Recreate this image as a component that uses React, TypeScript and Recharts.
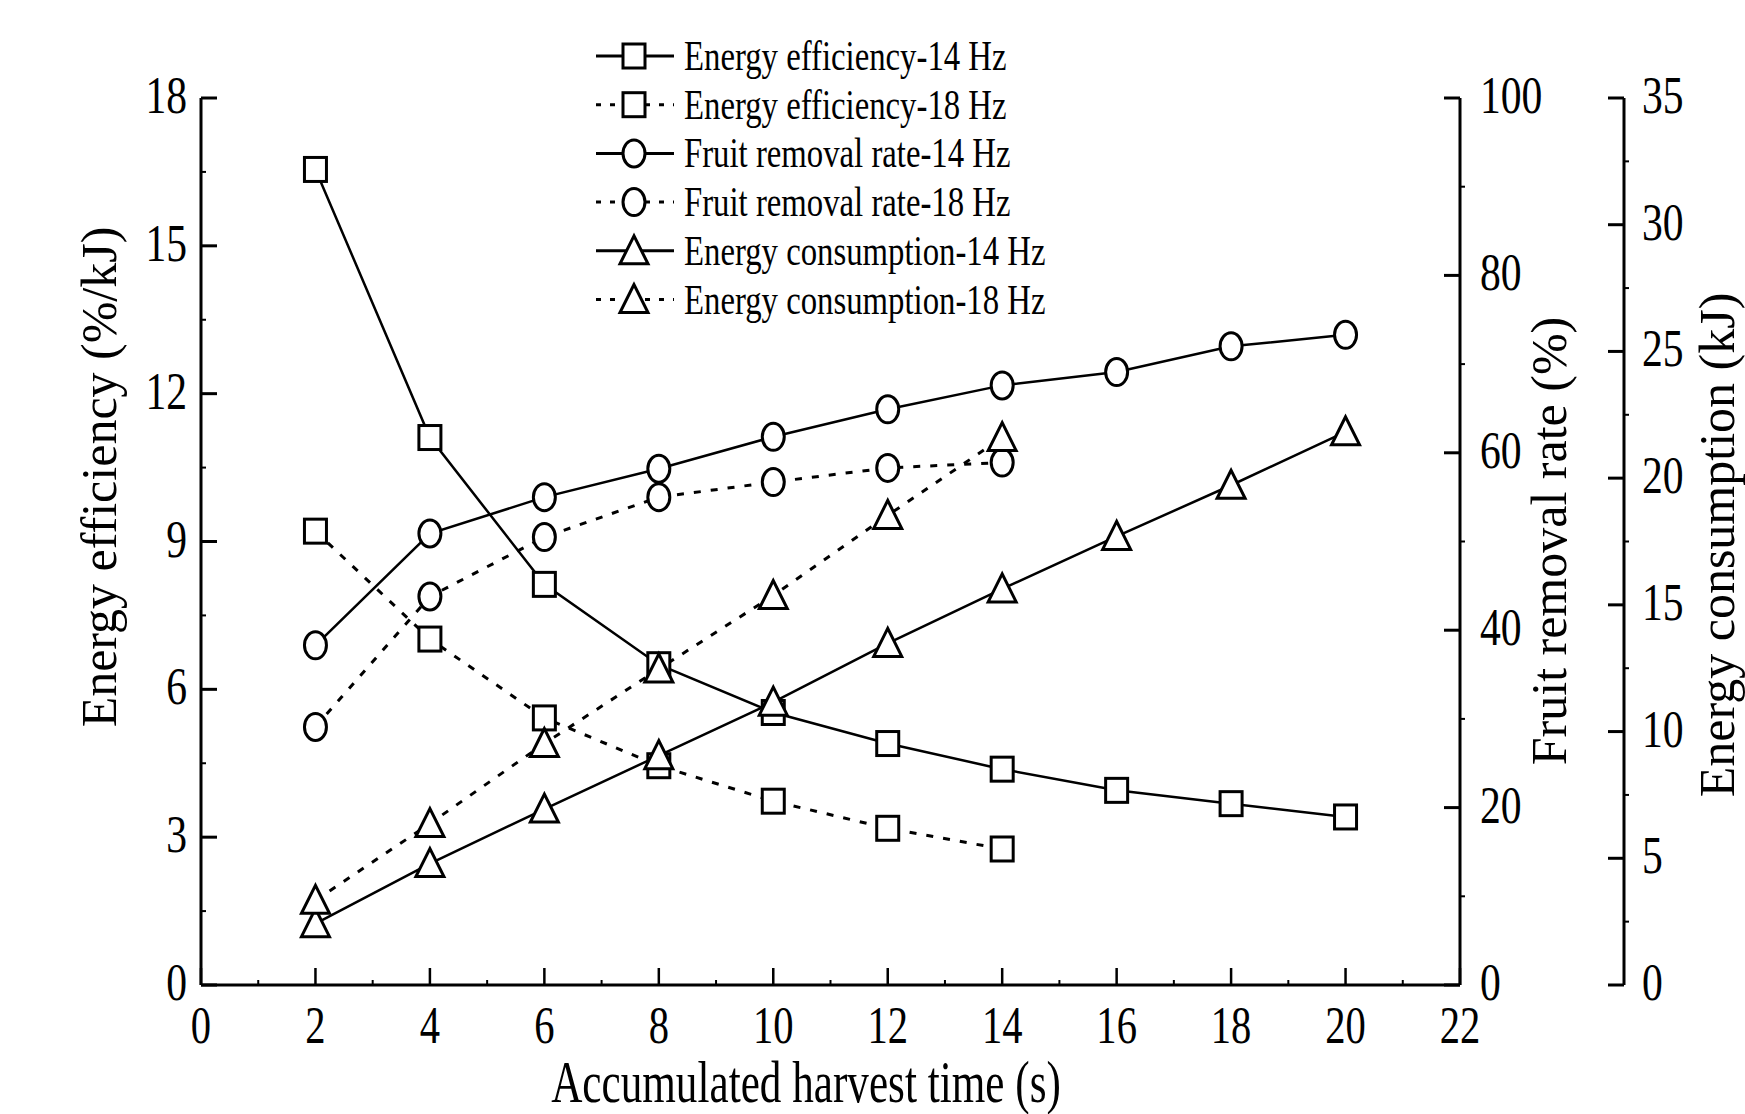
import React from "react";
import { ComposedChart, Line, XAxis, YAxis } from "recharts";

// values
const harvestTime = [2, 4, 6, 8, 10, 12, 14, 16, 18, 20];
const efficiency14 = [16.55, 11.11, 8.13, 6.5, 5.53, 4.9, 4.38, 3.95, 3.68, 3.41];
const efficiency18 = [9.21, 7.02, 5.42, 4.45, 3.73, 3.18, 2.76];
const removal14 = [38.3, 50.9, 55.0, 58.2, 61.8, 64.9, 67.6, 69.1, 72.0, 73.3];
const removal18 = [29.1, 43.8, 50.5, 55.0, 56.7, 58.3, 58.9];
const energy14 = [2.42, 4.79, 6.94, 9.05, 11.16, 13.48, 15.63, 17.7, 19.72, 21.83];
const energy18 = [3.34, 6.37, 9.53, 12.47, 15.37, 18.53, 21.6];

const timeTicks = [0, 1, 2, 3, 4, 5, 6, 7, 8, 9, 10, 11, 12, 13, 14, 15, 16, 17, 18, 19, 20, 21, 22];
const efficiencyTicks = [0, 1.5, 3, 4.5, 6, 7.5, 9, 10.5, 12, 13.5, 15, 16.5, 18];
const removalTicks = [0, 10, 20, 30, 40, 50, 60, 70, 80, 90, 100];
const energyTicks = [0, 2.5, 5, 7.5, 10, 12.5, 15, 17.5, 20, 22.5, 25, 27.5, 30, 32.5, 35];

const seriesKeys = ["ee14", "ee18", "fr14", "fr18", "ec14", "ec18"];
const seriesNames = [
  "Energy efficiency-14 Hz",
  "Energy efficiency-18 Hz",
  "Fruit removal rate-14 Hz",
  "Fruit removal rate-18 Hz",
  "Energy consumption-14 Hz",
  "Energy consumption-18 Hz",
];

const rows = harvestTime.map((t, i) => ({
  t,
  ee14: efficiency14[i],
  ee18: efficiency18[i],
  fr14: removal14[i],
  fr18: removal18[i],
  ec14: energy14[i],
  ec18: energy18[i],
}));

const FONT = "'Liberation Serif', 'Times New Roman', serif";
const W = 1745;
const H = 1114;

// r1 = fruit removal (next to the plot), r2 = energy consumption (outer)
type Shape = "square" | "circle" | "triangle";
const STYLE: Record<string, { shape: Shape; dashed: boolean; axis: string }> = {
  ee14: { shape: "square", dashed: false, axis: "l1" },
  ee18: { shape: "square", dashed: true, axis: "l1" },
  fr14: { shape: "circle", dashed: false, axis: "r1" },
  fr18: { shape: "circle", dashed: true, axis: "r1" },
  ec14: { shape: "triangle", dashed: false, axis: "r2" },
  ec18: { shape: "triangle", dashed: true, axis: "r2" },
};

function Marker({ shape, cx, cy }: { shape: Shape; cx: number; cy: number }) {
  const common = { fill: "#fff", stroke: "#000", strokeWidth: 3 };
  if (shape === "square") return <rect x={cx - 11} y={cy - 12} width={22} height={24} {...common} />;
  if (shape === "circle") return <ellipse cx={cx} cy={cy} rx={11} ry={13.5} {...common} />;
  return (
    <polygon
      points={`${cx},${cy - 15} ${cx - 14},${cy + 13} ${cx + 14},${cy + 13}`}
      {...common}
      strokeLinejoin="miter"
    />
  );
}

const makeDot = (shape: Shape) => (props: any) => {
  const { cx, cy, index } = props;
  if (cx == null || cy == null || Number.isNaN(cy)) return <g key={`d${index}`} />;
  return (
    <g key={`d${index}`}>
      <Marker shape={shape} cx={cx} cy={cy} />
    </g>
  );
};

const isMultiple = (v: number, step: number) => Math.abs(v / step - Math.round(v / step)) < 1e-6;

const makeYTick = (side: "left" | "right", major: number, gap: number) => (props: any) => {
  const { x, y, payload } = props;
  const v = payload.value as number;
  if (!isMultiple(v, major)) {
    return <line x1={x} y1={y} x2={x + 5} y2={y} stroke="#000" strokeWidth={2} />;
  }
  const dir = side === "left" ? 1 : -1;
  return (
    <g>
      <line x1={x} y1={y} x2={x + dir * 16} y2={y} stroke="#000" strokeWidth={3} />
      <text
        transform={`translate(${x - dir * gap},${y + 15}) scale(0.8,1)`}
        textAnchor={side === "left" ? "end" : "start"}
        fontFamily={FONT}
        fontSize={52}
        fill="#000"
      >
        {v}
      </text>
    </g>
  );
};

const renderTimeTick = (props: any) => {
  const { x, y, payload } = props;
  const v = payload.value as number;
  if (!isMultiple(v, 2)) {
    return <line x1={x} y1={y} x2={x} y2={y - 5} stroke="#000" strokeWidth={2} />;
  }
  return (
    <g>
      <line x1={x} y1={y} x2={x} y2={y - 17} stroke="#000" strokeWidth={2.5} />
      <text
        transform={`translate(${x},${y + 58}) scale(0.78,1)`}
        textAnchor="middle"
        fontFamily={FONT}
        fontSize={52}
        fill="#000"
      >
        {v}
      </text>
    </g>
  );
};

function VerticalTitle({ px, py, title }: any) {
  return (
    <text
      transform={`translate(${px},${py}) rotate(-90)`}
      textAnchor="middle"
      fontFamily={FONT}
      fontSize={50}
      fill="#000"
    >
      {title}
    </text>
  );
}

function HorizontalTitle({ px, py, title }: any) {
  return (
    <text
      transform={`translate(${px},${py}) scale(0.72,1)`}
      textAnchor="middle"
      fontFamily={FONT}
      fontSize={60}
      fill="#000"
    >
      {title}
    </text>
  );
}

function LegendOverlay() {
  return (
    <svg width={W} height={H} style={{ position: "absolute", left: 0, top: 0, pointerEvents: "none" }}>
      {seriesKeys.map((key, i) => {
        const s = STYLE[key];
        const cy = 56 + i * 48.7;
        return (
          <g key={key}>
            {s.dashed ? (
              <>
                <line x1={596} y1={cy} x2={623} y2={cy} stroke="#000" strokeWidth={3} strokeDasharray="5 9" />
                <line x1={645} y1={cy} x2={674} y2={cy} stroke="#000" strokeWidth={3} strokeDasharray="5 9" />
              </>
            ) : (
              <line x1={596} y1={cy} x2={674} y2={cy} stroke="#000" strokeWidth={3} />
            )}
            <Marker shape={s.shape} cx={634} cy={cy} />
            <text
              transform={`translate(684,${cy + 14}) scale(0.78,1)`}
              fontFamily={FONT}
              fontSize={42}
              fill="#000"
            >
              {seriesNames[i]}
            </text>
          </g>
        );
      })}
    </svg>
  );
}

const axisLine = { stroke: "#000", strokeWidth: 3 };

export default function App() {
  return (
    <div style={{ position: "absolute", left: 0, top: 0, width: W, height: H, background: "#fff" }}>
      <ComposedChart width={W} height={H} data={rows} margin={{ top: 98, right: 21, bottom: 29, left: 51 }}>
        <XAxis
          dataKey="t"
          type="number"
          domain={[0, 22]}
          ticks={timeTicks}
          interval={0}
          height={100}
          axisLine={axisLine}
          tickLine={false}
          tickSize={0}
          tickMargin={0}
          tick={renderTimeTick}
          label={<HorizontalTitle px={806} py={1102} title="Accumulated harvest time (s)" />}
        />
        <YAxis
          yAxisId="l1"
          orientation="left"
          type="number"
          domain={[0, 18]}
          ticks={efficiencyTicks}
          interval={0}
          width={150}
          axisLine={axisLine}
          tickLine={false}
          tickSize={0}
          tickMargin={0}
          tick={makeYTick("left", 3, 14)}
          label={<VerticalTitle px={116} py={477} title="Energy efficiency (%/kJ)" />}
        />
        <YAxis
          yAxisId="r2"
          orientation="right"
          type="number"
          domain={[0, 35]}
          ticks={energyTicks}
          interval={0}
          width={100}
          axisLine={axisLine}
          tickLine={false}
          tickSize={0}
          tickMargin={0}
          tick={makeYTick("right", 5, 18)}
          label={<VerticalTitle px={1734} py={545} title="Energy consumption (kJ)" />}
        />
        <YAxis
          yAxisId="r1"
          orientation="right"
          type="number"
          domain={[0, 100]}
          ticks={removalTicks}
          interval={0}
          width={164}
          axisLine={axisLine}
          tickLine={false}
          tickSize={0}
          tickMargin={0}
          tick={makeYTick("right", 20, 20)}
          label={<VerticalTitle px={1566} py={541} title="Fruit removal rate (%)" />}
        />
        {seriesKeys.map((key, i) => {
          const s = STYLE[key];
          return (
            <Line
              key={key}
              yAxisId={s.axis}
              dataKey={key}
              name={seriesNames[i]}
              type="linear"
              stroke="#000"
              strokeWidth={s.dashed ? 3 : 2.5}
              strokeDasharray={s.dashed ? "7 10" : undefined}
              dot={makeDot(s.shape)}
              activeDot={false}
              isAnimationActive={false}
            />
          );
        })}
      </ComposedChart>
      <LegendOverlay />
    </div>
  );
}
